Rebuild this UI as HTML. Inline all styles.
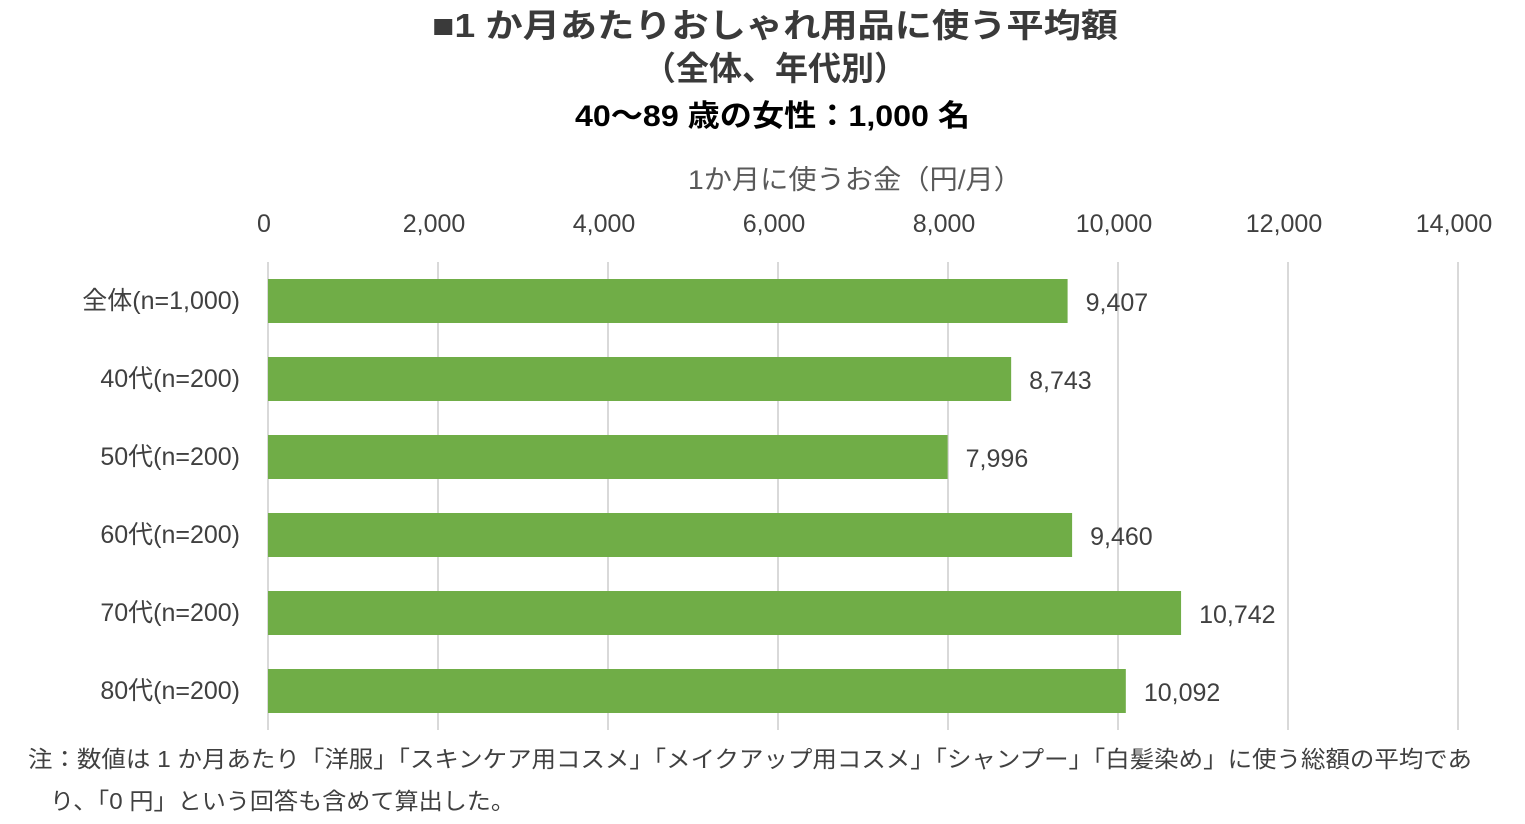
<!DOCTYPE html>
<html><head><meta charset="utf-8"><style>
body{margin:0;background:#fff;width:1525px;height:824px;overflow:hidden;font-family:"Liberation Sans","Noto Sans CJK JP",sans-serif}
svg{display:block}
</style></head><body>
<svg id="chart" width="1525" height="824" xmlns="http://www.w3.org/2000/svg" font-family="Liberation Sans, Noto Sans CJK JP, sans-serif">
<text x="432" y="37" textLength="686" lengthAdjust="spacingAndGlyphs" font-size="33" font-weight="bold" fill="#3a3a3a">■1 か月あたりおしゃれ用品に使う平均額</text>
<text x="775" y="80" text-anchor="middle" font-size="33" font-weight="bold" fill="#3a3a3a">（全体、年代別）</text>
<text x="575" y="126" textLength="395" lengthAdjust="spacingAndGlyphs" font-size="30" font-weight="bold" fill="#000">40～89 歳の女性：1,000 名</text>
<text x="688" y="189" textLength="334" lengthAdjust="spacingAndGlyphs" font-size="27" fill="#595959">1か月に使うお金（円/月）</text>
<g id="grid"></g><g id="ticks"></g><g id="bars"></g><g id="cats"></g><g id="vals"></g>
<text x="28" y="767" textLength="1444" lengthAdjust="spacingAndGlyphs" font-size="23" fill="#404040">注：数値は 1 か月あたり「洋服」「スキンケア用コスメ」「メイクアップ用コスメ」「シャンプー」「白髪染め」に使う総額の平均であ</text>
<text x="50" y="809" textLength="465" lengthAdjust="spacingAndGlyphs" font-size="23" fill="#404040">り、「0 円」という回答も含めて算出した。</text>
</svg>
<script>
const categories=["全体(n=1,000)","40代(n=200)","50代(n=200)","60代(n=200)","70代(n=200)","80代(n=200)"];
const values=[9407,8743,7996,9460,10742,10092];
const valueLabels=["9,407","8,743","7,996","9,460","10,742","10,092"];
const tickValues=[0,2000,4000,6000,8000,10000,12000,14000];
const tickLabels=["0","2,000","4,000","6,000","8,000","10,000","12,000","14,000"];
const NS="http://www.w3.org/2000/svg";
const x0=268,x1=1458,maxV=14000,yTop=262,yBot=730;
const xs=v=>x0+(x1-x0)*v/maxV;
const band=(yBot-yTop)/categories.length;
const yc=i=>yTop+band*(i+0.5);
function mk(tag,at,parent){const e=document.createElementNS(NS,tag);for(const k in at)e.setAttribute(k,at[k]);document.getElementById(parent).appendChild(e);return e;}
tickValues.forEach((t,i)=>{
 const g=mk('line',{x1:xs(t),x2:xs(t),y1:yTop,y2:yBot,stroke:'#d9d9d9','stroke-width':2},'grid');
 
 
 const l=mk('text',{x:xs(t)-4,y:232,'text-anchor':'middle','font-size':25,fill:'#404040'},'ticks');
 l.textContent=tickLabels[i];
 
 
});
categories.forEach((c,i)=>{
 const h=44;
 const b=mk('rect',{x:x0,y:yc(i)-h/2,width:xs(values[i])-x0,height:h,fill:'#70ad47'},'bars');
 
 
 const t=mk('text',{x:240,y:yc(i)+8,'text-anchor':'end','font-size':25,fill:'#404040'},'cats');
 t.textContent=c;
 
 
 const v=mk('text',{x:xs(values[i])+18,y:yc(i)+10,'font-size':25,fill:'#404040'},'vals');
 v.textContent=valueLabels[i];
 
 
});
</script>
</body></html>
